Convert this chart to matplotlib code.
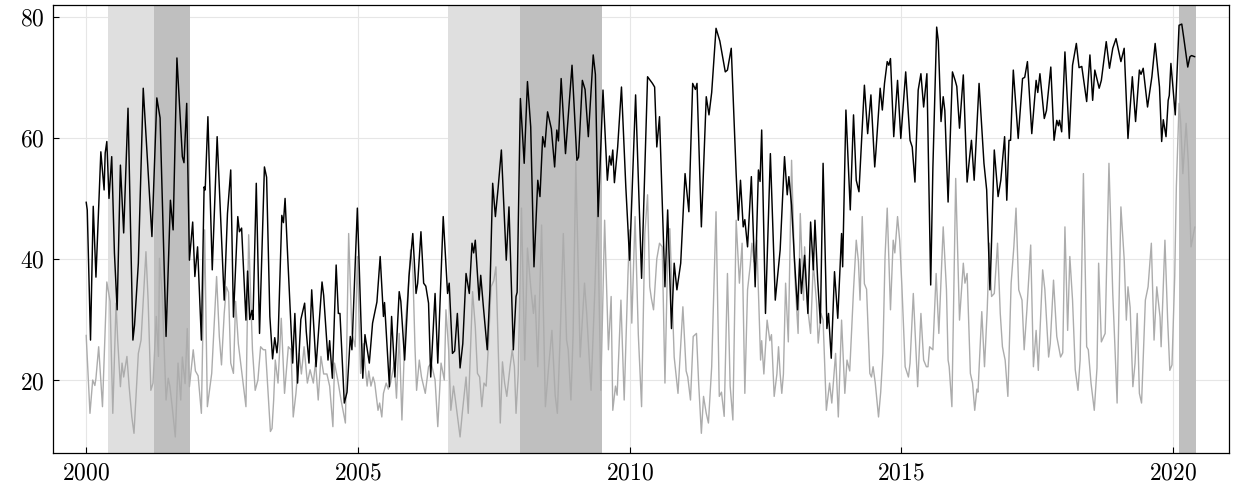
import matplotlib
matplotlib.use("Agg")
import matplotlib.pyplot as plt
from matplotlib.ticker import FuncFormatter
import numpy as np

# ---- data (decimal year, value) ----
black_t = [2000.00, 2000.02, 2000.08, 2000.13, 2000.18, 2000.27, 2000.33, 2000.35, 2000.38, 2000.42,
           2000.47, 2000.52, 2000.57, 2000.63, 2000.69, 2000.77, 2000.86, 2000.89, 2000.96, 2001.05,
           2001.15, 2001.21, 2001.30, 2001.36, 2001.47, 2001.55, 2001.60, 2001.67, 2001.77, 2001.80,
           2001.85, 2001.90, 2001.96, 2002.00, 2002.05, 2002.12, 2002.17, 2002.19, 2002.24, 2002.32,
           2002.41, 2002.54, 2002.60, 2002.66, 2002.71, 2002.79, 2002.82, 2002.86, 2002.94, 2002.97,
           2003.01, 2003.05, 2003.07, 2003.13, 2003.19, 2003.28, 2003.32, 2003.38, 2003.43, 2003.47,
           2003.51, 2003.53, 2003.60, 2003.63, 2003.66, 2003.70, 2003.80, 2003.84, 2003.89, 2003.95,
           2004.02, 2004.05, 2004.10, 2004.15, 2004.23, 2004.34, 2004.37, 2004.45, 2004.48, 2004.53,
           2004.60, 2004.64, 2004.67, 2004.75, 2004.80, 2004.86, 2004.89, 2004.99, 2005.09, 2005.13,
           2005.21, 2005.27, 2005.35, 2005.41, 2005.47, 2005.49, 2005.58, 2005.62, 2005.68, 2005.76,
           2005.79, 2005.86, 2005.94, 2006.01, 2006.07, 2006.10, 2006.16, 2006.21, 2006.25, 2006.30,
           2006.34, 2006.42, 2006.47, 2006.57, 2006.65, 2006.68, 2006.74, 2006.78, 2006.83, 2006.88,
           2006.93, 2006.99, 2007.05, 2007.10, 2007.13, 2007.16, 2007.23, 2007.26, 2007.31, 2007.38,
           2007.43, 2007.48, 2007.53, 2007.58, 2007.64, 2007.73, 2007.78, 2007.86, 2007.91, 2007.93,
           2007.99, 2008.06, 2008.12, 2008.18, 2008.24, 2008.31, 2008.35, 2008.40, 2008.44, 2008.49,
           2008.56, 2008.62, 2008.66, 2008.69, 2008.74, 2008.82, 2008.94, 2009.03, 2009.06, 2009.13,
           2009.18, 2009.24, 2009.33, 2009.37, 2009.42, 2009.45, 2009.51, 2009.59, 2009.63, 2009.66,
           2009.69, 2009.72, 2009.78, 2009.85, 2009.93, 2010.00, 2010.11, 2010.22, 2010.33, 2010.42,
           2010.46, 2010.50, 2010.55, 2010.65, 2010.70, 2010.77, 2010.82, 2010.87, 2010.94, 2011.02,
           2011.09, 2011.16, 2011.21, 2011.24, 2011.32, 2011.41, 2011.46, 2011.51, 2011.59, 2011.66,
           2011.76, 2011.80, 2011.87, 2011.96, 2012.00, 2012.04, 2012.09, 2012.12, 2012.17, 2012.24,
           2012.31, 2012.37, 2012.40, 2012.43, 2012.50, 2012.59, 2012.68, 2012.77, 2012.85, 2012.90,
           2012.93, 2012.98, 2013.03, 2013.09, 2013.13, 2013.16, 2013.22, 2013.28, 2013.33, 2013.38,
           2013.41, 2013.46, 2013.51, 2013.56, 2013.63, 2013.66, 2013.71, 2013.77, 2013.83, 2013.90,
           2013.92, 2013.98, 2014.06, 2014.12, 2014.17, 2014.22, 2014.32, 2014.38, 2014.44, 2014.51,
           2014.53, 2014.61, 2014.65, 2014.69, 2014.74, 2014.77, 2014.80, 2014.86, 2014.93, 2014.99,
           2015.08, 2015.16, 2015.20, 2015.25, 2015.31, 2015.36, 2015.41, 2015.47, 2015.54, 2015.58,
           2015.65, 2015.68, 2015.73, 2015.77, 2015.80, 2015.86, 2015.94, 2015.99, 2016.02, 2016.07,
           2016.14, 2016.21, 2016.25, 2016.29, 2016.34, 2016.43, 2016.52, 2016.57, 2016.63, 2016.65,
           2016.71, 2016.78, 2016.83, 2016.90, 2016.94, 2016.98, 2017.01, 2017.06, 2017.15, 2017.23,
           2017.27, 2017.32, 2017.40, 2017.48, 2017.51, 2017.55, 2017.63, 2017.67, 2017.75, 2017.81,
           2017.86, 2017.89, 2017.91, 2017.95, 2018.01, 2018.09, 2018.15, 2018.22, 2018.27, 2018.32,
           2018.41, 2018.47, 2018.52, 2018.56, 2018.64, 2018.68, 2018.77, 2018.83, 2018.89, 2018.95,
           2019.04, 2019.10, 2019.17, 2019.25, 2019.31, 2019.38, 2019.41, 2019.45, 2019.53, 2019.61,
           2019.67, 2019.75, 2019.79, 2019.82, 2019.87, 2019.91, 2019.93, 2019.96, 2020.04, 2020.11,
           2020.16, 2020.20, 2020.27, 2020.31, 2020.34, 2020.40]
black_v = [49.4, 48.1, 26.6, 48.7, 37.0, 57.7, 51.4, 57.5, 59.4, 50.0,
           56.9, 41.0, 31.6, 55.5, 44.3, 64.9, 26.6, 29.1, 39.3, 68.2,
           53.0, 43.7, 66.6, 63.3, 27.2, 49.7, 44.8, 73.2, 56.9, 55.9,
           65.7, 39.8, 46.1, 37.1, 42.0, 26.6, 51.9, 51.4, 63.5, 38.2,
           60.2, 33.2, 47.5, 54.7, 30.4, 47.0, 44.5, 45.1, 29.9, 38.0,
           30.0, 31.5, 30.0, 52.5, 27.7, 55.2, 53.5, 30.5, 23.5, 27.0,
           24.5, 26.5, 47.2, 46.0, 50.0, 42.0, 22.8, 31.0, 19.5, 30.0,
           32.7, 28.0, 22.8, 34.9, 22.2, 36.2, 34.0, 23.3, 26.5, 20.3,
           39.0, 31.0, 31.0, 16.2, 18.0, 27.2, 25.0, 48.4, 20.3, 27.5,
           22.8, 29.4, 32.9, 40.4, 30.5, 32.8, 18.9, 30.5, 20.5, 34.6,
           33.0, 23.3, 37.1, 44.2, 34.3, 36.0, 44.5, 36.0, 35.5, 32.7,
           20.5, 34.3, 22.8, 47.0, 34.3, 36.0, 24.4, 24.8, 31.0, 22.0,
           26.0, 37.6, 34.3, 42.6, 41.0, 43.1, 33.2, 37.3, 32.0, 25.0,
           34.9, 52.5, 47.0, 51.7, 58.0, 39.8, 48.6, 25.0, 33.8, 34.5,
           66.5, 55.8, 69.3, 61.8, 38.7, 53.0, 50.3, 60.2, 58.5, 64.3,
           61.5, 55.2, 61.3, 59.5, 69.8, 57.4, 72.0, 56.3, 56.8, 69.5,
           68.0, 60.2, 73.7, 70.5, 47.0, 54.0, 67.9, 53.0, 57.0, 55.5,
           58.0, 52.6, 58.5, 68.4, 51.9, 39.8, 67.1, 36.8, 70.1, 69.0,
           68.4, 58.5, 63.5, 35.4, 48.1, 28.5, 39.3, 34.9, 39.3, 54.1,
           47.8, 69.0, 68.0, 69.0, 45.3, 66.8, 63.8, 67.5, 78.1, 76.0,
           70.9, 71.2, 74.8, 54.1, 46.4, 53.0, 45.3, 46.5, 42.0, 53.6,
           35.4, 54.7, 52.8, 61.3, 31.0, 57.4, 33.2, 41.5, 56.9, 50.6,
           53.6, 48.9, 40.4, 31.6, 40.0, 34.3, 40.6, 31.0, 46.1, 38.2,
           46.4, 36.5, 29.4, 55.8, 28.5, 31.0, 23.6, 37.9, 30.2, 44.2,
           38.7, 64.6, 48.1, 63.8, 53.0, 51.1, 68.7, 60.7, 67.1, 55.2,
           57.5, 68.2, 64.6, 69.0, 72.6, 72.0, 73.1, 60.2, 69.5, 59.9,
           70.9, 59.6, 58.5, 52.7, 67.9, 70.6, 65.1, 70.6, 35.7, 55.0,
           78.3, 76.0, 62.7, 66.8, 64.5, 49.4, 70.9, 69.5, 68.5, 61.6,
           70.4, 52.7, 56.3, 59.6, 53.0, 69.0, 55.8, 51.4, 34.9, 40.0,
           58.0, 50.3, 53.0, 60.2, 49.7, 59.6, 59.6, 71.2, 59.9, 69.8,
           70.0, 72.6, 60.7, 69.5, 67.5, 70.6, 63.2, 64.5, 71.7, 59.6,
           62.9, 62.0, 62.9, 61.0, 74.2, 59.9, 72.0, 75.6, 71.6, 71.8,
           66.0, 73.7, 66.2, 71.2, 68.2, 69.5, 75.9, 71.5, 74.8, 76.4,
           72.6, 74.8, 59.9, 70.1, 62.7, 71.2, 70.5, 71.5, 65.1, 70.1,
           75.6, 68.4, 59.4, 63.0, 60.2, 66.2, 67.0, 72.3, 63.8, 78.6,
           78.8, 76.3, 71.7, 73.4, 73.6, 73.4]

gray_t = [2000.00, 2000.07, 2000.12, 2000.16, 2000.18, 2000.23, 2000.30, 2000.38, 2000.44, 2000.49,
          2000.55, 2000.58, 2000.63, 2000.66, 2000.69, 2000.75, 2000.79, 2000.84, 2000.88, 2000.96,
          2001.01, 2001.05, 2001.10, 2001.14, 2001.19, 2001.23, 2001.29, 2001.33, 2001.35, 2001.40,
          2001.47, 2001.51, 2001.54, 2001.59, 2001.64, 2001.69, 2001.74, 2001.77, 2001.82, 2001.86,
          2001.90, 2001.97, 2002.01, 2002.06, 2002.12, 2002.18, 2002.23, 2002.31, 2002.40, 2002.45,
          2002.49, 2002.54, 2002.58, 2002.62, 2002.66, 2002.71, 2002.75, 2002.80, 2002.88, 2002.94,
          2002.99, 2003.06, 2003.11, 2003.16, 2003.21, 2003.26, 2003.30, 2003.39, 2003.42, 2003.45,
          2003.48, 2003.53, 2003.59, 2003.65, 2003.72, 2003.77, 2003.81, 2003.86, 2003.92, 2003.96,
          2004.01, 2004.07, 2004.12, 2004.18, 2004.22, 2004.27, 2004.32, 2004.37, 2004.43, 2004.48,
          2004.54, 2004.57, 2004.63, 2004.69, 2004.77, 2004.83, 2004.89, 2004.95, 2004.99, 2005.05,
          2005.10, 2005.13, 2005.17, 2005.20, 2005.24, 2005.28, 2005.31, 2005.37, 2005.40, 2005.44,
          2005.47, 2005.52, 2005.56, 2005.60, 2005.67, 2005.71, 2005.76, 2005.81, 2005.87, 2005.92,
          2005.97, 2006.01, 2006.05, 2006.08, 2006.13, 2006.17, 2006.24, 2006.30, 2006.35, 2006.42,
          2006.47, 2006.53, 2006.59, 2006.62, 2006.67, 2006.71, 2006.76, 2006.79, 2006.88, 2006.92,
          2006.99, 2007.03, 2007.11, 2007.16, 2007.20, 2007.24, 2007.28, 2007.32, 2007.36, 2007.40,
          2007.45, 2007.50, 2007.54, 2007.57, 2007.62, 2007.66, 2007.70, 2007.74, 2007.80, 2007.84,
          2007.88, 2007.91, 2007.95, 2008.01, 2008.07, 2008.12, 2008.18, 2008.23, 2008.26, 2008.31,
          2008.38, 2008.45, 2008.51, 2008.57, 2008.63, 2008.67, 2008.72, 2008.78, 2008.84, 2008.87,
          2008.92, 2008.96, 2009.01, 2009.09, 2009.17, 2009.21, 2009.29, 2009.36, 2009.41, 2009.44,
          2009.47, 2009.54, 2009.61, 2009.66, 2009.69, 2009.74, 2009.77, 2009.84, 2009.90, 2009.97,
          2010.00, 2010.04, 2010.10, 2010.16, 2010.22, 2010.28, 2010.33, 2010.37, 2010.40, 2010.44,
          2010.50, 2010.55, 2010.60, 2010.65, 2010.71, 2010.74, 2010.82, 2010.89, 2010.98, 2011.04,
          2011.07, 2011.12, 2011.17, 2011.23, 2011.27, 2011.32, 2011.36, 2011.41, 2011.45, 2011.51,
          2011.59, 2011.65, 2011.69, 2011.74, 2011.80, 2011.85, 2011.90, 2011.96, 2012.02, 2012.07,
          2012.12, 2012.17, 2012.22, 2012.25, 2012.29, 2012.34, 2012.41, 2012.43, 2012.47, 2012.53,
          2012.58, 2012.61, 2012.66, 2012.71, 2012.74, 2012.77, 2012.80, 2012.83, 2012.87, 2012.92,
          2012.98, 2013.04, 2013.10, 2013.14, 2013.20, 2013.22, 2013.28, 2013.33, 2013.38, 2013.44,
          2013.47, 2013.52, 2013.56, 2013.62, 2013.68, 2013.72, 2013.79, 2013.84, 2013.90, 2013.96,
          2014.00, 2014.05, 2014.12, 2014.17, 2014.21, 2014.24, 2014.28, 2014.32, 2014.36, 2014.42,
          2014.45, 2014.48, 2014.52, 2014.58, 2014.62, 2014.66, 2014.70, 2014.74, 2014.80, 2014.85,
          2014.88, 2014.93, 2014.97, 2015.01, 2015.07, 2015.13, 2015.16, 2015.22, 2015.30, 2015.36,
          2015.41, 2015.46, 2015.49, 2015.52, 2015.58, 2015.64, 2015.69, 2015.77, 2015.83, 2015.86,
          2015.88, 2015.93, 2016.00, 2016.07, 2016.14, 2016.17, 2016.21, 2016.27, 2016.31, 2016.35,
          2016.39, 2016.41, 2016.48, 2016.53, 2016.58, 2016.62, 2016.66, 2016.71, 2016.77, 2016.82,
          2016.86, 2016.91, 2016.96, 2017.02, 2017.07, 2017.11, 2017.16, 2017.22, 2017.26, 2017.31,
          2017.38, 2017.43, 2017.48, 2017.52, 2017.60, 2017.64, 2017.71, 2017.74, 2017.80, 2017.86,
          2017.93, 2017.97, 2018.01, 2018.06, 2018.10, 2018.15, 2018.20, 2018.25, 2018.29, 2018.35,
          2018.41, 2018.44, 2018.49, 2018.55, 2018.60, 2018.63, 2018.68, 2018.75, 2018.82, 2018.89,
          2018.93, 2018.97, 2019.04, 2019.10, 2019.14, 2019.17, 2019.21, 2019.26, 2019.30, 2019.34,
          2019.38, 2019.42, 2019.49, 2019.54, 2019.60, 2019.65, 2019.70, 2019.76, 2019.78, 2019.85,
          2019.90, 2019.94, 2019.98, 2020.03, 2020.06, 2020.11, 2020.14, 2020.18, 2020.24, 2020.28,
          2020.33, 2020.40]
gray_v = [27.4, 14.5, 20.0, 19.1, 20.3, 25.5, 15.6, 36.2, 33.0, 14.5,
          32.7, 26.6, 18.9, 22.8, 20.5, 23.9, 19.0, 13.9, 11.2, 24.4,
          26.6, 33.2, 41.2, 33.2, 18.3, 19.5, 30.5, 23.9, 40.1, 34.0,
          16.7, 20.3, 19.0, 15.0, 10.6, 22.8, 16.7, 23.8, 19.4, 28.5,
          18.9, 25.0, 21.5, 20.7, 14.5, 44.8, 15.6, 21.1, 37.1, 27.2,
          22.5, 31.0, 35.4, 34.5, 22.8, 21.1, 33.0, 26.0, 20.0, 15.6,
          44.0, 25.0, 18.3, 20.0, 25.5, 25.0, 25.0, 11.5, 12.0, 16.7,
          23.3, 19.5, 30.2, 17.8, 25.5, 25.0, 13.9, 17.8, 24.4, 21.0,
          25.5, 19.5, 21.7, 19.5, 23.0, 16.7, 23.9, 21.0, 21.0, 19.0,
          12.3, 22.8, 20.0, 16.7, 12.9, 44.2, 27.7, 25.5, 40.4, 21.1,
          26.0, 22.5, 19.0, 21.5, 19.0, 20.5, 19.5, 15.0, 16.2, 13.9,
          17.8, 19.5, 18.5, 19.5, 22.8, 17.0, 27.7, 13.4, 28.8, 34.3,
          41.5, 38.6, 25.5, 18.3, 23.3, 20.5, 17.8, 22.2, 22.8, 20.0,
          12.3, 22.8, 20.0, 31.6, 25.0, 15.0, 19.0, 17.0, 10.6, 14.5,
          20.5, 14.5, 34.6, 28.8, 21.1, 20.5, 15.6, 19.5, 19.0, 25.5,
          35.4, 36.4, 38.7, 29.3, 12.9, 23.0, 19.5, 17.3, 22.2, 25.0,
          22.2, 14.5, 21.0, 48.4, 23.3, 41.8, 35.4, 31.0, 34.0, 22.2,
          45.6, 15.6, 22.2, 28.2, 17.5, 14.5, 26.6, 44.2, 26.6, 25.0,
          16.7, 27.5, 56.0, 23.8, 36.0, 31.0, 18.3, 34.9, 48.9, 33.0,
          18.3, 46.4, 25.0, 33.8, 15.0, 19.0, 17.5, 33.2, 16.7, 37.6,
          44.8, 29.4, 47.0, 27.5, 15.6, 44.2, 50.6, 35.4, 33.5, 31.6,
          40.0, 42.6, 42.0, 19.5, 44.8, 45.0, 23.8, 17.8, 32.1, 21.5,
          20.5, 16.7, 27.2, 27.7, 19.5, 11.2, 17.3, 14.5, 12.9, 22.2,
          47.8, 17.3, 18.0, 14.0, 37.6, 19.0, 13.4, 46.4, 36.0, 42.6,
          17.8, 34.9, 39.0, 42.6, 39.5, 43.1, 23.3, 26.5, 21.0, 29.9,
          26.5, 27.5, 17.3, 21.0, 25.5, 21.0, 17.8, 21.0, 36.0, 26.3,
          56.3, 37.1, 27.7, 47.5, 33.2, 42.0, 31.6, 27.7, 39.3, 32.7,
          26.1, 31.0, 29.9, 15.0, 19.5, 16.2, 24.4, 13.9, 29.9, 17.8,
          23.3, 21.5, 34.9, 43.1, 39.6, 33.2, 47.0, 35.9, 35.0, 21.1,
          20.5, 22.2, 19.5, 13.9, 18.0, 24.4, 40.4, 48.4, 31.6, 43.1,
          41.0, 47.0, 43.0, 35.5, 22.2, 20.5, 22.8, 34.3, 18.9, 31.0,
          23.3, 22.2, 22.2, 25.5, 25.0, 37.6, 27.7, 45.3, 34.9, 23.3,
          22.2, 15.6, 53.3, 29.9, 39.3, 36.0, 37.6, 21.1, 19.5, 15.0,
          18.5, 18.0, 31.3, 22.2, 31.6, 42.6, 33.8, 34.3, 42.6, 31.0,
          25.5, 23.3, 17.3, 36.0, 42.0, 48.4, 34.9, 33.2, 25.0, 31.6,
          42.3, 22.2, 28.2, 21.6, 38.2, 35.0, 23.8, 26.0, 36.5, 27.2,
          23.8, 24.5, 45.3, 28.2, 40.4, 33.2, 21.7, 18.3, 23.3, 54.1,
          25.5, 25.0, 19.5, 15.0, 22.0, 39.3, 26.3, 27.7, 55.8, 34.3,
          25.5, 16.2, 48.6, 40.0, 29.9, 35.4, 32.0, 18.9, 22.8, 31.0,
          17.8, 16.2, 33.2, 35.4, 42.6, 26.6, 35.4, 30.4, 25.5, 43.1,
          29.9, 21.6, 22.5, 37.1, 51.9, 65.7, 62.5, 54.1, 62.4, 56.0,
          42.0, 45.3]

# shaded periods: (start, end)
light_periods = [(2000.40, 2001.25), (2006.66, 2007.99)]
dark_periods = [(2001.25, 2001.91), (2007.99, 2009.49), (2020.10, 2020.42)]

x_ticks = [2000, 2005, 2010, 2015, 2020]
y_ticks = [20, 40, 60, 80]

plt.rcParams['mathtext.fontset'] = 'cm'
plt.rcParams['font.family'] = 'DejaVu Serif'

fig = plt.figure(figsize=(12.33, 4.94), dpi=100)
ax = fig.add_axes([0.043, 0.0824, 0.9538, 0.9081])

ax.grid(True, color='#e6e6e6', linewidth=0.8, zorder=0)
ax.set_axisbelow(True)
for a, b in light_periods:
    ax.axvspan(a, b, color='#dfdfdf', lw=0, zorder=1)
for a, b in dark_periods:
    ax.axvspan(a, b, color='#bfbfbf', lw=0, zorder=1)

ax.plot(gray_t, gray_v, color='#acacac', lw=1.0, zorder=2,
        solid_joinstyle='round', solid_capstyle='round')
ax.plot(black_t, black_v, color='black', lw=1.05, zorder=3,
        solid_joinstyle='round', solid_capstyle='round')

ax.set_xlim(1999.39, 2021.03)
ax.set_ylim(7.9, 82.0)
ax.set_xticks(x_ticks)
ax.set_yticks(y_ticks)
ax.xaxis.set_major_formatter(FuncFormatter(lambda v, p: r'$%d$' % round(v)))
ax.yaxis.set_major_formatter(FuncFormatter(lambda v, p: r'$%d$' % round(v)))
ax.tick_params(axis='both', direction='in', length=4, width=0.8, labelsize=17, colors='black')
ax.tick_params(axis='x', pad=6)
ax.tick_params(axis='y', pad=6)
for s in ax.spines.values():
    s.set_linewidth(0.9)
    s.set_color('black')

fig.savefig('out.png', dpi=100)
